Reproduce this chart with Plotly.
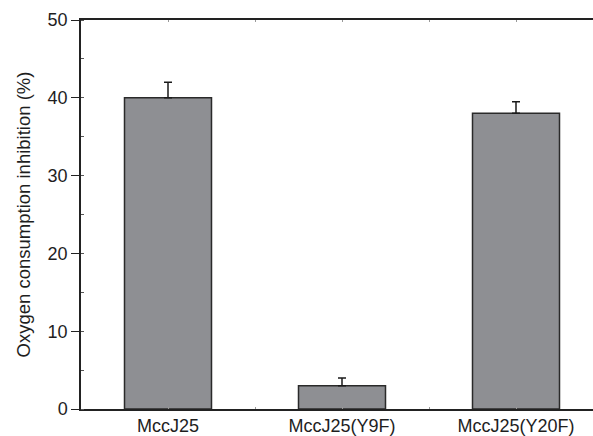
import plotly.graph_objects as go

categories = ["MccJ25", "MccJ25(Y9F)", "MccJ25(Y20F)"]
values = [40.0, 3.0, 38.0]
errors_up = [2.0, 1.0, 1.5]
y_ticks = [0, 10, 20, 30, 40, 50]

positions = list(range(len(categories)))

fig = go.Figure()
fig.add_trace(go.Bar(
    x=positions,
    y=values,
    width=0.5,
    marker=dict(color="#8e8f93", line=dict(color="#2a2a2a", width=1.5)),
    error_y=dict(type="data", symmetric=False, array=errors_up,
                 arrayminus=[0] * len(values), color="#1a1a1a",
                 thickness=1.5, width=4),
    showlegend=False,
))

font = dict(family="Liberation Sans, Arial, sans-serif", size=18, color="#1e1e1e")
title_font = dict(family="Liberation Sans, Arial, sans-serif", size=18.5, color="#1e1e1e")

fig.update_layout(
    width=593, height=436,
    margin=dict(l=81, r=0, t=20, b=27, autoexpand=False),
    paper_bgcolor="white", plot_bgcolor="white",
    font=font,
    bargap=0.5,
    xaxis=dict(
        range=[-0.5, 2.4425],
        tickvals=positions, ticktext=categories,
        ticks="inside", ticklen=2, tickcolor="#999999", tickwidth=1,
        showline=True, linecolor="#222222", linewidth=1.5,
        mirror="ticks", showgrid=False, zeroline=False,
        minor=dict(dtick=0.5, tick0=0, ticks="inside", ticklen=2,
                   tickcolor="#999999", tickwidth=1, showgrid=False),
        tickfont=font,
    ),
    yaxis=dict(
        range=[0, 50],
        tickvals=y_ticks,
        ticks="outside", ticklen=8, tickcolor="#222222", tickwidth=1.3,
        showline=True, linecolor="#222222", linewidth=1.5,
        showgrid=False, zeroline=False,
        minor=dict(dtick=5, tick0=5, ticks="inside", ticklen=3,
                   tickcolor="#555555", tickwidth=1, showgrid=False),
        title=dict(text="Oxygen consumption inhibition (%)", font=title_font, standoff=12),
        tickfont=font,
    ),
)

fig.write_html("out.html", config={"displayModeBar": False},
               post_script="document.body.style.margin='0';document.body.style.overflow='hidden';")
